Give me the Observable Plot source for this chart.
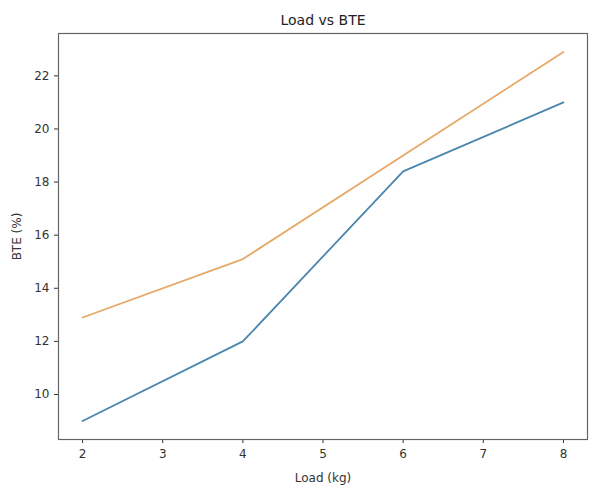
<!DOCTYPE html>
<html>
<head>
<meta charset="utf-8">
<script src="https://cdn.jsdelivr.net/npm/d3@7"></script>
<script src="https://cdn.jsdelivr.net/npm/@observablehq/plot@0.6"></script>
<style>
  body { margin: 0; background: #fff; }
  svg { font-family: "DejaVu Sans", sans-serif; }
</style>
</head>
<body>
<div id="chart"></div>
<script>
const loads = [2, 4, 6, 8];
const bteSeriesA = [9.0, 12.0, 18.4, 21.0];
const bteSeriesB = [12.9, 15.1, 19.0, 22.9];
const xTicks = [2, 3, 4, 5, 6, 7, 8];
const yTicks = [10, 12, 14, 16, 18, 20, 22];
const title = "Load vs BTE";

const rowsA = loads.map((x, i) => ({x, y: bteSeriesA[i]}));
const rowsB = loads.map((x, i) => ({x, y: bteSeriesB[i]}));

const plot = Plot.plot({
  width: 589,
  height: 490,
  marginLeft: 58,
  marginRight: 2,
  marginTop: 33,
  marginBottom: 51,
  style: {fontFamily: "DejaVu Sans, sans-serif", fontSize: "12px", color: "#333", background: "#fff"},
  x: {domain: [1.7, 8.3], ticks: xTicks, tickFormat: "d", tickSize: 4, tickPadding: 6, label: "Load (kg)", labelAnchor: "center", labelArrow: "none", labelOffset: 42},
  y: {domain: [8.305, 23.595], ticks: yTicks, tickFormat: "d", tickSize: 4, tickPadding: 5, label: "BTE (%)", labelAnchor: "center", labelArrow: "none", labelOffset: 46},
  marks: [
    Plot.frame({stroke: "#666", strokeWidth: 1.2}),
    Plot.line(rowsA, {x: "x", y: "y", stroke: "#4a86ad", strokeWidth: 1.8}),
    Plot.line(rowsB, {x: "x", y: "y", stroke: "#e6a866", strokeWidth: 1.8}),
    Plot.text([title], {frameAnchor: "top", dy: -18, fontSize: 14, fill: "#222"})
  ]
});
document.getElementById("chart").appendChild(plot);
</script>
</body>
</html>
